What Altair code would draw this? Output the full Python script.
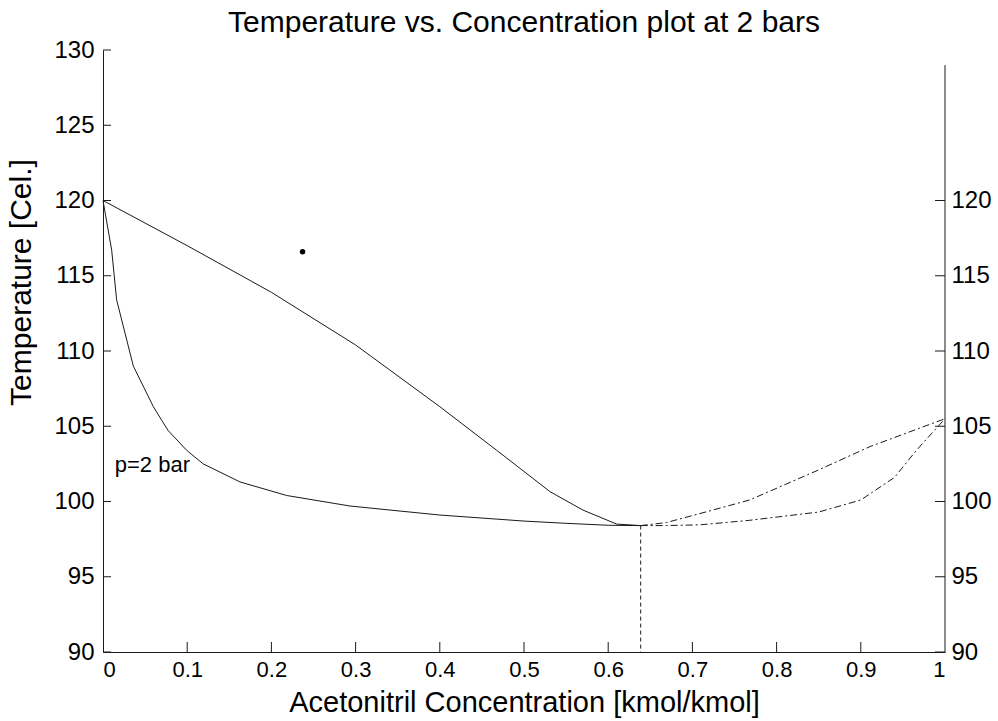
import altair as alt
import pandas as pd

# ---------------- data ----------------
# lower (boiling / liquid) curve, left of the azeotrope
liq_left_x = [0.0, 0.0103, 0.0162, 0.036, 0.0598, 0.0697, 0.0776, 0.0994, 0.119, 0.1627, 0.218, 0.2933, 0.4, 0.5, 0.55, 0.6, 0.6386]
liq_left_T = [120.0, 116.7, 113.4, 109.0, 106.3, 105.4, 104.7, 103.4, 102.5, 101.3, 100.4, 99.7, 99.1, 98.7, 98.55, 98.42, 98.4]
# lower curve, right of the azeotrope
liq_right_x = [0.6386, 0.669, 0.709, 0.768, 0.85, 0.9, 0.94, 0.966, 1.0]
liq_right_T = [98.4, 98.4, 98.45, 98.75, 99.3, 100.1, 101.6, 103.4, 105.5]
# upper (dew / vapour) curve, left of the azeotrope
vap_left_x = [0.0, 0.1, 0.2, 0.3, 0.4, 0.4676, 0.531, 0.57, 0.61, 0.6386]
vap_left_T = [120.0, 117.0, 113.9, 110.4, 106.3, 103.4, 100.65, 99.43, 98.5, 98.4]
# upper curve, right of the azeotrope
vap_right_x = [0.6386, 0.669, 0.709, 0.768, 0.85, 0.911, 1.0]
vap_right_T = [98.4, 98.6, 99.2, 100.1, 102.1, 103.65, 105.5]

azeo_x = [0.6386]
azeo_T_top = [98.4]
azeo_T_bottom = [90.0]

speck_x = [0.237]
speck_T = [116.6]

label_text = ["p=2 bar"]
label_x = [0.014]
label_T = [102.4]

x_ticks = [0, 0.1, 0.2, 0.3, 0.4, 0.5, 0.6, 0.7, 0.8, 0.9, 1]
x_inner_ticks = [0.1, 0.2, 0.3, 0.4, 0.5, 0.6, 0.7, 0.8, 0.9]
y_left_ticks = [90, 95, 100, 105, 110, 115, 120, 125, 130]
y_right_ticks = [90, 95, 100, 105, 110, 115, 120]
right_axis_span = [90, 129]

# ---------------- styling ----------------
W, H = 842, 602
FONT = "Liberation Sans"
INK = "#1a1a1a"

xs = alt.Scale(domain=[0, 1], nice=False, zero=False)
ys = alt.Scale(domain=[90, 130], nice=False, zero=False)


def seg(xv, tv, name):
    return pd.DataFrame({"x": xv, "T": tv, "part": name})


solid = pd.concat([seg(liq_left_x, liq_left_T, "liq_l"), seg(vap_left_x, vap_left_T, "vap_l")])
dashed = pd.concat([seg(liq_right_x, liq_right_T, "liq_r"), seg(vap_right_x, vap_right_T, "vap_r")])

x_axis = alt.Axis(
    values=x_ticks, format="~g", ticks=False, grid=False,
    labelFont=FONT, labelFontSize=22, labelColor="black", labelPadding=7,
    domainColor=INK, domainWidth=1,
    title="Acetonitril Concentration [kmol/kmol]", titleFont=FONT, titleFontSize=29,
    titleFontWeight="normal", titleColor="black", titleX=W / 2, titleY=50,
    titleBaseline="middle",
)
y_axis_left = alt.Axis(
    values=y_left_ticks, ticks=False, grid=False,
    labelFont=FONT, labelFontSize=24, labelColor="black", labelPadding=9,
    domainColor=INK, domainWidth=1,
    title="Temperature [Cel.]", titleFont=FONT, titleFontSize=30,
    titleFontWeight="normal", titleColor="black", titleX=-82, titleY=232,
    titleAngle=-90, titleBaseline="middle", titleAlign="center",
)
y_axis_right = alt.Axis(
    orient="right", values=y_right_ticks, ticks=False, grid=False, domain=False,
    labelFont=FONT, labelFontSize=24, labelColor="black", labelPadding=6, title=None,
)

X = lambda f: alt.X(f, scale=xs, axis=x_axis)
Y = lambda f: alt.Y(f, scale=ys, axis=y_axis_left)

solid_layer = alt.Chart(solid).mark_line(color=INK, strokeWidth=1).encode(
    x=X("x:Q"), y=Y("T:Q"), detail="part:N", order="x:Q",
)

dashed_layer = alt.Chart(dashed).mark_line(color=INK, strokeWidth=1, strokeDash=[7, 3, 2, 3]).encode(
    x=X("x:Q"), y=Y("T:Q"), detail="part:N", order="x:Q",
)

azeo_df = pd.DataFrame({"x": azeo_x, "T": azeo_T_top, "T0": azeo_T_bottom})
azeo_layer = alt.Chart(azeo_df).mark_rule(color=INK, strokeWidth=1, strokeDash=[4, 3]).encode(
    x=X("x:Q"), y=Y("T:Q"), y2="T0:Q",
)

speck_df = pd.DataFrame({"x": speck_x, "T": speck_T})
speck_layer = alt.Chart(speck_df).mark_point(filled=True, color="black", size=30, shape="circle", opacity=1).encode(
    x=X("x:Q"), y=Y("T:Q"),
)

label_df = pd.DataFrame({"x": label_x, "T": label_T, "t": label_text})
label_layer = alt.Chart(label_df).mark_text(
    font=FONT, fontSize=22, color="black", align="left", baseline="middle"
).encode(
    x=X("x:Q"), y=Y("T:Q"), text="t:N",
)

left_ticks_df = pd.DataFrame({"v": y_left_ticks})
left_ticks = alt.Chart(left_ticks_df).mark_rule(color=INK, strokeWidth=1).encode(
    x=alt.value(0), x2=alt.value(8), y=Y("v:Q"),
)

bottom_ticks_df = pd.DataFrame({"v": x_inner_ticks})
bottom_ticks = alt.Chart(bottom_ticks_df).mark_rule(color=INK, strokeWidth=1).encode(
    x=X("v:Q"), y=alt.value(H - 10), y2=alt.value(H),
)

left_group = alt.layer(
    solid_layer, dashed_layer, azeo_layer, speck_layer, label_layer, left_ticks, bottom_ticks
)

# right-hand axis (same temperature scale, labels only up to 120)
YR = lambda f: alt.Y(f, scale=ys, axis=y_axis_right)
right_ticks_df = pd.DataFrame({"v": y_right_ticks})
right_ticks = alt.Chart(right_ticks_df).mark_rule(color=INK, strokeWidth=1).encode(
    x=alt.value(W - 10), x2=alt.value(W), y=YR("v:Q"),
)
right_line_df = pd.DataFrame({"a": [right_axis_span[0]], "b": [right_axis_span[1]]})
right_line = alt.Chart(right_line_df).mark_rule(color=INK, strokeWidth=1).encode(
    x=alt.value(W), y=YR("a:Q"), y2="b:Q",
)
right_group = alt.layer(right_ticks, right_line)

chart = alt.layer(left_group, right_group).resolve_scale(y="independent").properties(
    width=W, height=H,
    title=alt.TitleParams(
        "Temperature vs. Concentration plot at 2 bars",
        font=FONT, fontSize=30, fontWeight="normal", color="black", anchor="middle", offset=0,
    ),
    autosize=alt.AutoSizeParams(type="none"),
    padding={"left": 103, "top": 50, "right": 53, "bottom": 69},
    background="white",
).configure_view(strokeWidth=0)

chart.save("out.html", embed_options={"renderer": "svg", "actions": False})
